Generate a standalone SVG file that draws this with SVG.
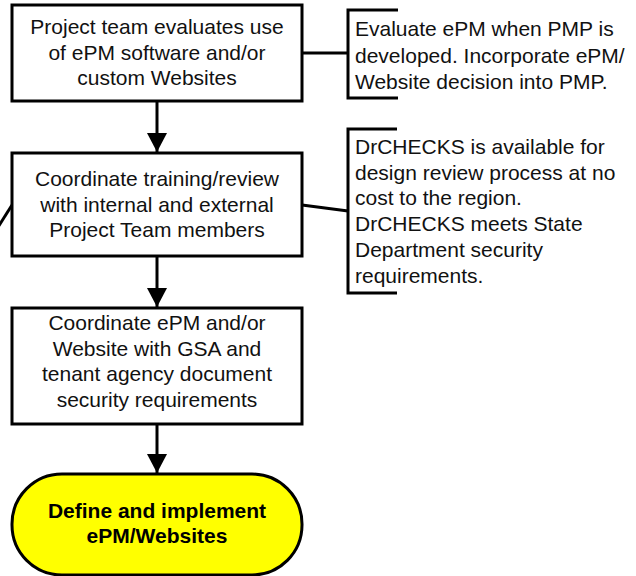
<svg xmlns="http://www.w3.org/2000/svg" width="636" height="576" viewBox="0 0 636 576">
<defs>
<style>
.box{fill:#fff;stroke:#000;stroke-width:3}
.term{fill:#ffff00;stroke:#000;stroke-width:3}
.t{font-family:"Liberation Sans",Arial,sans-serif;font-size:21px;fill:#111;text-anchor:middle}
.a{font-family:"Liberation Sans",Arial,sans-serif;font-size:21px;fill:#111}
.b{font-family:"Liberation Sans",Arial,sans-serif;font-size:21px;font-weight:bold;fill:#000;text-anchor:middle}
.ln{fill:none;stroke:#000;stroke-width:3}
</style>
<marker id="arr" markerUnits="userSpaceOnUse" markerWidth="20" markerHeight="20" viewBox="0 0 20 20" refX="19" refY="10" orient="auto">
<path d="M0,0 L19,10 L0,20 Z" fill="#000"/>
</marker>
</defs>
<g id="connectors">
<line class="ln" x1="157" y1="101" x2="157" y2="152" marker-end="url(#arr)"/>
<line class="ln" x1="157" y1="256" x2="157" y2="307" marker-end="url(#arr)"/>
<line class="ln" x1="157" y1="424" x2="157" y2="473" marker-end="url(#arr)"/>
<line class="ln" x1="302" y1="53" x2="348" y2="53"/>
<line class="ln" x1="302" y1="205" x2="348" y2="211"/>
<line class="ln" x1="12" y1="205" x2="-12" y2="243"/>
</g>
<g id="node1">
<rect class="box" x="12" y="5" width="290" height="96"/>
<text class="t" x="157" y="34">Project team evaluates use</text>
<text class="t" x="157" y="59.5">of ePM software and/or</text>
<text class="t" x="157" y="85">custom Websites</text>
</g>
<g id="node2">
<rect class="box" x="12" y="153" width="290" height="103"/>
<text class="t" x="157" y="186">Coordinate training/review</text>
<text class="t" x="157" y="211.5">with internal and external</text>
<text class="t" x="157" y="237">Project Team members</text>
</g>
<g id="node3">
<rect class="box" x="12" y="308" width="290" height="116"/>
<text class="t" x="157" y="330">Coordinate ePM and/or</text>
<text class="t" x="157" y="355.5">Website with GSA and</text>
<text class="t" x="157" y="381">tenant agency document</text>
<text class="t" x="157" y="406.5">security requirements</text>
</g>
<g id="node4">
<rect class="term" x="12" y="474" width="290" height="101" rx="50" ry="50"/>
<text class="b" x="157" y="518">Define and implement</text>
<text class="b" x="157" y="543">ePM/Websites</text>
</g>
<g id="note1">
<path class="ln" d="M398,10 H348 V98 H398"/>
<text class="a" x="355" y="36">Evaluate ePM when PMP is</text>
<text class="a" x="355" y="62.5">developed. Incorporate ePM/</text>
<text class="a" x="355" y="89">Website decision into PMP.</text>
</g>
<g id="note2">
<path class="ln" d="M397,129 H348 V293 H397"/>
<text class="a" x="355" y="154">DrCHECKS is available for</text>
<text class="a" x="355" y="179.7">design review process at no</text>
<text class="a" x="355" y="205.4">cost to the region.</text>
<text class="a" x="355" y="231.1">DrCHECKS meets State</text>
<text class="a" x="355" y="256.8">Department security</text>
<text class="a" x="355" y="282.5">requirements.</text>
</g>
</svg>
